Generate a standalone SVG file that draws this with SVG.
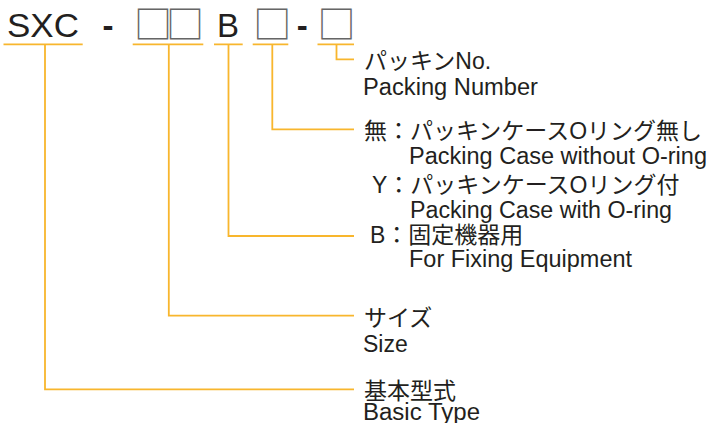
<svg xmlns="http://www.w3.org/2000/svg" width="710" height="423" viewBox="0 0 710 423">
<style>
.t{font-family:"Liberation Sans","Noto Sans CJK JP",sans-serif;fill:#231f20}
.code{font-size:33px}
.box{font-family:"Noto Sans CJK JP",sans-serif;font-size:38px;fill:#666666}
.dash{font-weight:bold}
.lb{font-size:23px}
.ln{fill:none;stroke:#F8B62D;stroke-width:1.8}
</style>
<rect width="710" height="423" fill="#ffffff"/>
<g id="code">
<g id="seg-sxc"><text class="t code" x="7" y="37" textLength="72" lengthAdjust="spacingAndGlyphs">SXC</text></g>
<g id="seg-dash1"><text class="t code dash" x="102.5" y="37">-</text></g>
<g id="seg-size"><text class="box" x="133.9" y="38" letter-spacing="-6">□□</text></g>
<g id="seg-b"><text class="t code" x="217" y="37">B</text></g>
<g id="seg-case"><text class="box" x="253.3" y="38">□</text></g>
<g id="seg-dash2"><text class="t code dash" x="296.8" y="37">-</text></g>
<g id="seg-packing"><text class="box" x="317.6" y="38">□</text></g>
</g>
<g id="connectors">
<path class="ln" d="M3.5 44.3H82.7M132.7 44.3H203.3M214 44.3H242.7M252.7 44.3H288.3M317.5 44.3H354"/>
<path class="ln" d="M336.5 44.3V59.3H354"/>
<path class="ln" d="M272.3 44.3V129.3H354"/>
<path class="ln" d="M228.5 44.3V236H354"/>
<path class="ln" d="M168.8 44.3V315.7H354"/>
<path class="ln" d="M45 44.3V389.3H354"/>
</g>
<g id="label-packing">
<text class="t lb" x="364" y="69">パッキンNo.</text>
<text class="t lb" x="363" y="94.5" textLength="175" lengthAdjust="spacingAndGlyphs">Packing Number</text>
</g>
<g id="label-case">
<text class="t lb" x="364" y="139">無：パッキンケースOリング無し</text>
<text class="t lb" x="409" y="164" textLength="298" lengthAdjust="spacingAndGlyphs">Packing Case without O-ring</text>
<text class="t lb" x="372" y="192.5">Y：パッキンケースOリング付</text>
<text class="t lb" x="410" y="217.5" textLength="262" lengthAdjust="spacingAndGlyphs">Packing Case with O-ring</text>
</g>
<g id="label-b">
<text class="t lb" x="370" y="242.7">B：固定機器用</text>
<text class="t lb" x="409" y="267" textLength="223" lengthAdjust="spacingAndGlyphs">For Fixing Equipment</text>
</g>
<g id="label-size">
<text class="t lb" x="364" y="326">サイズ</text>
<text class="t lb" x="363" y="351.7">Size</text>
</g>
<g id="label-basic">
<text class="t lb" x="364" y="398.5">基本型式</text>
<text class="t lb" x="363" y="420" textLength="117" lengthAdjust="spacingAndGlyphs">Basic Type</text>
</g>
</svg>
